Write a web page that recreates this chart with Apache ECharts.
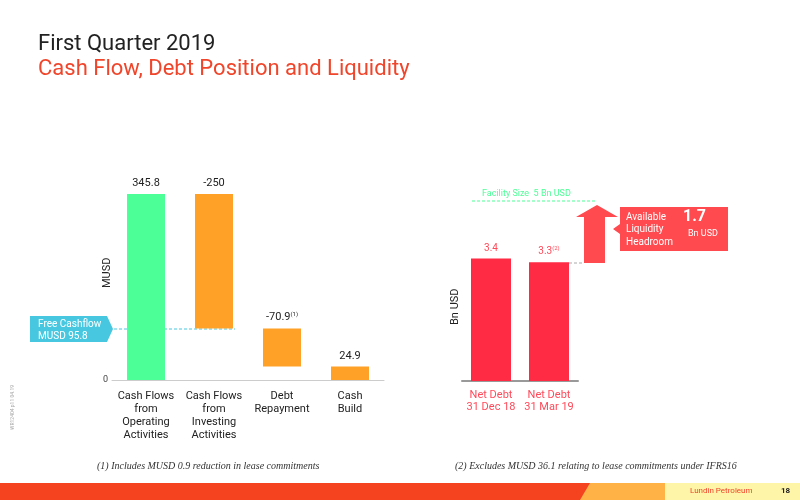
<!DOCTYPE html>
<html><head><meta charset="utf-8">
<script src="https://cdn.jsdelivr.net/npm/echarts@6/dist/echarts.min.js"></script>
<style>html,body{margin:0;padding:0;background:#fff}#c{width:800px;height:500px}</style>
</head><body><div id="c"></div>
<script>
// waterfall data (MUSD)
const flowCats = ['Cash Flows\nfrom\nOperating\nActivities', 'Cash Flows\nfrom\nInvesting\nActivities', 'Debt\nRepayment', 'Cash\nBuild']
const flowBase = [0, 95.8, 24.9, 0]
const flowSize = [345.8, 250, 70.9, 24.9]
const flowLabels = ['345.8', '-250', '-70.9{s|(1)}', '24.9']
const flowColors = ['#4dff97', '#ffa126', '#ffa126', '#ffa126']
// net debt (Bn USD)
const debtCats = ['Net Debt\n31 Dec 18', 'Net Debt\n31 Mar 19']
const debtVals = [3.4, 3.3]
const debtLabels = ['3.4', '3.3{s|(2)}']

const chart = echarts.init(document.getElementById('c'))
const font = 'Roboto'
chart.setOption({
  animation: false,
  textStyle: { fontFamily: font },
  title: [
    { text: 'First Quarter 2019', left: 33, top: 28, textStyle: { fontSize: 22, fontWeight: 'normal', color: '#222' } },
    { text: 'Cash Flow, Debt Position and Liquidity', left: 33, top: 53, textStyle: { fontSize: 22, fontWeight: 'normal', color: '#f0452a' } }
  ],
  grid: [
    { left: 112, width: 272, top: 175, bottom: 120 },
    { left: 462, width: 116, top: 201, bottom: 119 }
  ],
  xAxis: [
    { gridIndex: 0, type: 'category', data: flowCats, axisTick: { show: false },
      axisLine: { lineStyle: { color: '#ccc' } },
      axisLabel: { interval: 0, color: '#222', fontSize: 11, lineHeight: 13, margin: 10 } },
    { gridIndex: 1, type: 'category', data: debtCats, axisTick: { show: false },
      axisLine: { lineStyle: { color: '#999', width: 2 } },
      axisLabel: { interval: 0, color: '#ff4a5a', fontSize: 11, lineHeight: 12, margin: 8 } }
  ],
  yAxis: [
    { gridIndex: 0, type: 'value', min: 0, max: 381, interval: 381, splitLine: { show: false },
      axisLabel: { formatter: v => v === 0 ? '0' : '', fontSize: 9, color: '#444', margin: 4 } },
    { gridIndex: 1, type: 'value', min: 0, max: 5, interval: 5, splitLine: { show: false },
      axisLabel: { show: false } }
  ],
  series: [
    { type: 'bar', stack: 'w', xAxisIndex: 0, yAxisIndex: 0, data: flowBase,
      itemStyle: { color: 'transparent' }, barWidth: 38 },
    { type: 'bar', stack: 'w', xAxisIndex: 0, yAxisIndex: 0, barWidth: 38,
      data: flowSize.map((v, i) => ({ value: v, itemStyle: { color: flowColors[i] } })),
      label: { show: true, position: 'top', color: '#222', fontSize: 11,
        formatter: p => flowLabels[p.dataIndex], rich: { s: { fontSize: 6, verticalAlign: 'top', padding: [0, 0, 6, 0] } } } },
    { type: 'bar', xAxisIndex: 1, yAxisIndex: 1, data: debtVals, barWidth: 40,
      itemStyle: { color: '#ff2a44' },
      label: { show: true, position: 'top', color: '#ff4a5a', fontSize: 10,
        formatter: p => debtLabels[p.dataIndex], rich: { s: { fontSize: 6, color: '#ff4a5a', padding: [0, 0, 6, 0] } } } }
  ],
  graphic: [
    // axis names
    { type: 'text', x: 102, y: 288, rotation: Math.PI / 2, style: { text: 'MUSD', fill: '#222', fontSize: 11, fontFamily: font } },
    { type: 'text', x: 450, y: 325, rotation: Math.PI / 2, style: { text: 'Bn USD', fill: '#222', fontSize: 11, fontFamily: font } },
    // free cashflow callout
    { type: 'polygon', shape: { points: [[30, 316], [107, 316], [113, 329], [107, 342], [30, 342]] }, style: { fill: '#47c8e0' } },
    { type: 'text', left: 38, top: 318, style: { text: 'Free Cashflow\nMUSD 95.8', fill: '#fff', fontSize: 10, lineHeight: 12, fontFamily: font } },
    { type: 'line', shape: { x1: 114, y1: 329, x2: 235, y2: 329 }, style: { stroke: '#47c8e0', lineDash: [3, 2] } },
    // facility line
    { type: 'line', shape: { x1: 472, y1: 201, x2: 595, y2: 201 }, style: { stroke: '#4dff97', lineDash: [3, 2] } },
    { type: 'text', left: 482, top: 189, style: { text: 'Facility Size  5 Bn USD', fill: '#4dff97', fontSize: 9, fontFamily: font } },
    { type: 'line', shape: { x1: 569, y1: 263, x2: 583, y2: 263 }, style: { stroke: '#aaa', lineDash: [3, 2] } },
    // headroom arrow
    { type: 'polygon', shape: { points: [[584, 263], [584, 217], [576, 217], [597, 205], [618, 217], [605, 217], [605, 263]] }, style: { fill: '#ff4a4f' } },
    { type: 'polygon', shape: { points: [[620, 207], [728, 207], [728, 251], [620, 251], [620, 234], [613, 229], [620, 224]] }, style: { fill: '#ff4a4f' } },
    { type: 'text', left: 626, top: 211, style: { text: 'Available\nLiquidity\nHeadroom', fill: '#fff', fontSize: 10, lineHeight: 12.5, fontFamily: font } },
    { type: 'text', left: 683, top: 209, style: { text: '1.7', fill: '#fff', fontSize: 16, fontWeight: 'bold', fontFamily: font } },
    { type: 'text', left: 688, top: 229, style: { text: 'Bn USD', fill: '#fff', fontSize: 9, fontFamily: font } },
    // footnotes
    { type: 'text', left: 97, top: 461, style: { text: '(1) Includes MUSD 0.9 reduction in lease commitments', fill: '#333', fontSize: 10, fontStyle: 'italic', fontFamily: 'Liberation Serif' } },
    { type: 'text', left: 455, top: 461, style: { text: '(2) Excludes MUSD 36.1 relating to lease commitments under IFRS16', fill: '#333', fontSize: 10, fontStyle: 'italic', fontFamily: 'Liberation Serif' } },
    { type: 'text', x: 10, y: 430, rotation: Math.PI / 2, style: { text: 'WR12404 p11 04.19', fill: '#aaa', fontSize: 5, fontFamily: font } },
    // footer
    { type: 'rect', shape: { x: 0, y: 483, width: 800, height: 17 }, style: { fill: '#f5421f' } },
    { type: 'polygon', shape: { points: [[590, 483], [800, 483], [800, 500], [580, 500]] }, style: { fill: '#ffb347' } },
    { type: 'rect', shape: { x: 665, y: 483, width: 135, height: 17 }, style: { fill: '#fff5a8' } },
    { type: 'text', left: 690, top: 487, style: { text: 'Lundin Petroleum', fill: '#f0452a', fontSize: 8, fontFamily: font } },
    { type: 'text', left: 781, top: 487, style: { text: '18', fill: '#222', fontSize: 8, fontWeight: 'bold', fontFamily: font } }
  ]
})
</script></body></html>
